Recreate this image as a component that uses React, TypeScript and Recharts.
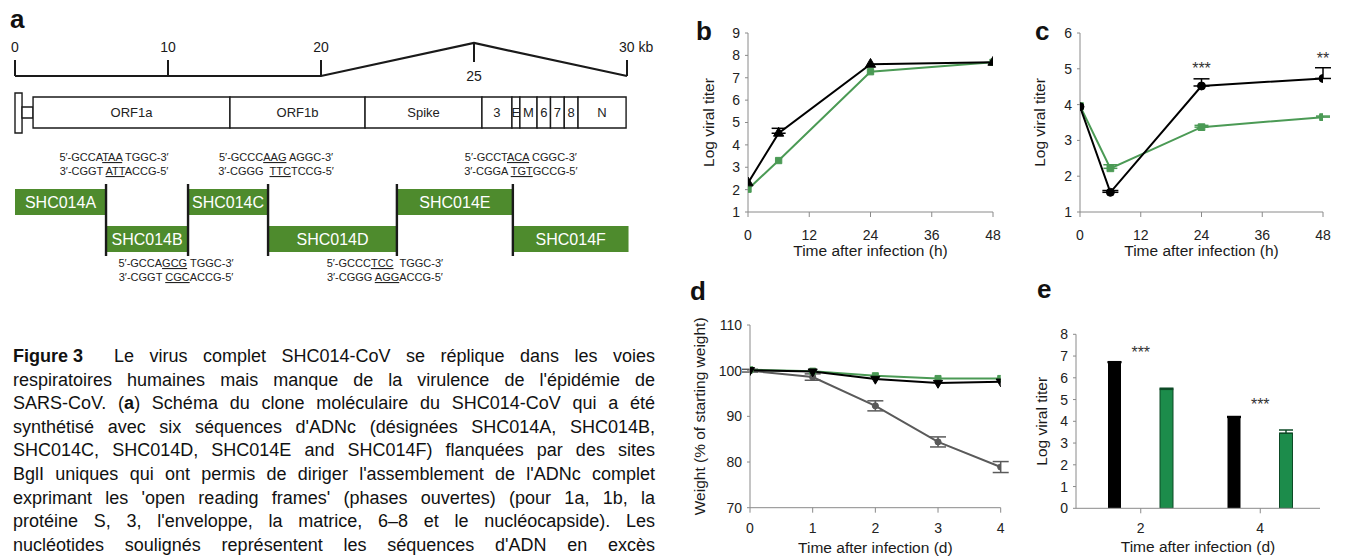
import React from 'react';
import {
  ComposedChart, LineChart, BarChart, Line, Bar, XAxis, YAxis,
  ReferenceArea, ReferenceLine, ReferenceDot, ErrorBar, Symbols,
} from 'recharts';

const FONT = "'Liberation Sans', Arial, Helvetica, sans-serif";
const NARROW = "'Liberation Sans Narrow', 'Arial Narrow', 'Liberation Sans', Arial, sans-serif";
const GREEN_LINE = '#4b9a55';
const GREEN_BAR = '#1c8c4b';
const GREEN_BLOCK = '#4e8b2d';
const AXIS = '#8a8a8a';
const INK = '#1a1a1a';
const GRAY_LINE = '#5a5a5a';

// ---------------- Panel a : genome map ----------------
const scaleBarKb = [0, 20, 25, 30];
const scaleTickKb = [0, 10, 20, 25, 30];
const scaleTickLabels = ['0', '10', '20', '25', '30 kb'];

const genomeParts = ['leader', 'link', 'ORF1a', 'ORF1b', 'Spike', '3', 'E', 'M', '6', '7', '8', 'N'];
const genomeStartKb = [0, 0.46, 1.18, 14.05, 21.44, 25.26, 26.24, 26.5, 27.06, 27.5, 27.95, 28.4];
const genomeEndKb = [0.46, 1.18, 14.05, 21.44, 25.26, 26.24, 26.5, 27.06, 27.5, 27.95, 28.4, 29.97];

const fragmentNames = ['SHC014A', 'SHC014B', 'SHC014C', 'SHC014D', 'SHC014E', 'SHC014F'];
const fragmentStartKb = [0, 5.95, 11.31, 16.54, 22.48, 26.27];
const fragmentEndKb = [5.95, 11.31, 16.54, 22.48, 26.27, 30.05];

// junction sequences [before, underlined, after]
const junctionSeq5 = [
  ['5\u2032-GCCA', 'TAA', ' TGGC-3\u2032'],
  ['5\u2032-GCCA', 'GCG', ' TGGC-3\u2032'],
  ['5\u2032-GCCC', 'AAG', ' AGGC-3\u2032'],
  ['5\u2032-GCCC', 'TCC', '  TGGC-3\u2032'],
  ['5\u2032-GCCT', 'ACA', ' CGGC-3\u2032'],
];
const junctionSeq3 = [
  ['3\u2032-CGGT ', 'ATT', 'ACCG-5\u2032'],
  ['3\u2032-CGGT ', 'CGC', 'ACCG-5\u2032'],
  ['3\u2032-CGGG  ', 'TTC', 'TCCG-5\u2032'],
  ['3\u2032-CGGG ', 'AGG', 'ACCG-5\u2032'],
  ['3\u2032-CGGA ', 'TGT', 'GCCG-5\u2032'],
];

// ---------------- Panel b ----------------
const hoursB = [0, 6, 24, 48];
const blackB = [2.3, 4.52, 7.6, 7.69];
const blackBErr = [0, 0.22, 0, 0];
const greenB = [2.02, 3.3, 7.27, 7.69];
const greenBErr = [0, 0, 0, 0];

// ---------------- Panel c ----------------
const hoursC = [0, 6, 24, 48];
const blackC = [3.94, 1.55, 4.52, 4.73];
const blackCErr = [0, 0.05, 0.2, 0.3];
const greenC = [3.96, 2.22, 3.37, 3.65];
const greenCErr = [0, 0.1, 0.05, 0.03];
const starsC = [
  { x: 24, y: 5.1, text: '***' },
  { x: 48, y: 5.39, text: '**' },
];

// ---------------- Panel d ----------------
const daysD = [0, 1, 2, 3, 4];
const greenD = [100.2, 99.9, 98.9, 98.3, 98.3];
const blackD = [100.1, 99.8, 98.2, 97.3, 97.6];
const grayD = [100.0, 98.6, 92.3, 84.4, 78.9];
const grayDErr = [0.3, 0.7, 1.1, 1.1, 1.2];

// ---------------- Panel e ----------------
const daysE = ['2', '4'];
const blackE = [6.7, 4.18];
const blackEErr = [0.04, 0.04];
const greenE = [5.47, 3.45];
const greenEErr = [0.05, 0.15];
const starsE = [
  { x: '2', y: 7.32, text: '***' },
  { x: '4', y: 4.95, text: '***' },
];

const captionLines: React.ReactNode[] = [
  <><b style={{ fontWeight: 900, display: 'inline-block', whiteSpace: 'nowrap' }}>Figure 3</b>{' \u00a0Le virus complet SHC014-CoV se réplique dans les voies'}</>,
  "respiratoires humaines mais manque de la virulence de l'épidémie de",
  <>SARS-CoV. (<b>a</b>) Schéma du clone moléculaire du SHC014-CoV qui a été</>,
  "synthétisé avec six séquences d'ADNc (désignées SHC014A, SHC014B,",
  'SHC014C, SHC014D, SHC014E and SHC014F) flanquées par des sites',
  "BglI uniques qui ont permis de diriger l'assemblement de l'ADNc complet",
  "exprimant les 'open reading frames' (phases ouvertes) (pour 1a, 1b, la",
  "protéine S, 3, l'enveloppe, la matrice, 6–8 et le nucléocapside). Les",
  "nucléotides soulignés représentent les séquences d'ADN en excès",
];

// map kb onto the drawn (broken) scale: 20–30 kb is shown expanded x2
const toU = (kb: number) => (kb <= 20 ? kb : 20 + 2 * (kb - 20));

const A = {
  baseY: 76, peakY: 43, tickTopY: 60, peakTickY: 62, tickLabelY: 52, peakLabelY: 81,
  boxTop: 97, boxBottom: 128, leaderTop: 93, leaderBottom: 133, linkTop: 107, linkBottom: 118,
  upperTop: 189, upperBottom: 215, lowerTop: 226, lowerBottom: 252, joinTop: 184, joinBottom: 256,
  seqUpperY: 161, seqLowerY: 267, seqGap: 14,
};

const textShape = (label: string, opts: any) => (p: any) => (
  <text
    x={(p.cx ?? 0) + (opts.dx || 0)}
    y={(p.cy ?? 0) + (opts.dy || 0)}
    textAnchor={opts.anchor || 'middle'}
    fontSize={opts.fontSize || 14}
    fill={opts.fill || INK}
    fontFamily={FONT}
  >
    {label}
  </text>
);

const seqShape = (s5: string[], s3: string[], dx: number) => (p: any) => {
  const x = (p.cx ?? 0) + dx;
  const y = p.cy ?? 0;
  return (
    <text textAnchor="middle" fontSize={11} fill="#222" fontFamily={FONT} xmlSpace="preserve" style={{ whiteSpace: 'pre' }}>
      <tspan x={x} y={y}>
        {s5[0]}
        <tspan style={{ textDecoration: 'underline' }}>{s5[1]}</tspan>
        {s5[2]}
      </tspan>
      <tspan x={x} y={y + A.seqGap}>
        {s3[0]}
        <tspan style={{ textDecoration: 'underline' }}>{s3[1]}</tspan>
        {s3[2]}
      </tspan>
    </text>
  );
};

function PanelA() {
  const scaleLine = scaleBarKb.map((kb) => ({ u: toU(kb), y: kb === 25 ? A.peakY : A.baseY }));
  const junctions = fragmentEndKb.slice(0, 5);
  return (
    <ComposedChart width={660} height={290} data={scaleLine} margin={{ top: 0, right: 17.7, bottom: 0, left: 15 }}>
      <XAxis type="number" dataKey="u" domain={[0, 41]} allowDataOverflow hide />
      <YAxis type="number" domain={[0, 290]} allowDataOverflow reversed hide />
      <Line dataKey="y" stroke={INK} strokeWidth={2.2} dot={false} isAnimationActive={false} />
      {scaleTickKb.map((kb, i) => {
        const u = toU(kb);
        const seg = kb === 25
          ? [{ x: u, y: A.peakY }, { x: u, y: A.peakTickY }]
          : [{ x: u, y: A.tickTopY }, { x: u, y: A.baseY }];
        return <ReferenceLine key={'tick' + i} segment={seg} stroke={INK} strokeWidth={2} />;
      })}
      {scaleTickKb.map((kb, i) => (
        <ReferenceDot
          key={'tl' + i}
          x={toU(kb)}
          y={kb === 25 ? A.peakLabelY : A.tickLabelY}
          r={0}
          shape={textShape(scaleTickLabels[i], { fontSize: 14, anchor: i === 4 ? 'start' : 'middle', dx: i === 4 ? -8 : 0 })}
        />
      ))}
      {genomeParts.map((name, i) => {
        const isLeader = name === 'leader';
        const isLink = name === 'link';
        const y1 = isLeader ? A.leaderTop : isLink ? A.linkTop : A.boxTop;
        const y2 = isLeader ? A.leaderBottom : isLink ? A.linkBottom : A.boxBottom;
        return (
          <ReferenceArea
            key={'g' + i}
            x1={toU(genomeStartKb[i])}
            x2={toU(genomeEndKb[i])}
            y1={y1}
            y2={y2}
            fill="#ffffff"
            fillOpacity={1}
            stroke={INK}
            strokeWidth={1.4}
            strokeOpacity={1}
            label={isLeader || isLink ? undefined : { value: name, position: 'center', fontSize: 13, fill: '#222', fontFamily: NARROW }}
          />
        );
      })}
      {fragmentNames.map((name, i) => {
        const upper = i % 2 === 0;
        return (
          <ReferenceArea
            key={'f' + i}
            x1={toU(fragmentStartKb[i])}
            x2={toU(fragmentEndKb[i])}
            y1={upper ? A.upperTop : A.lowerTop}
            y2={upper ? A.upperBottom : A.lowerBottom}
            fill={GREEN_BLOCK}
            fillOpacity={1}
            stroke="none"
            label={{ value: name, position: 'center', fontSize: 16, fill: '#ffffff', fontFamily: FONT }}
          />
        );
      })}
      {junctions.map((kb, i) => (
        <ReferenceLine
          key={'j' + i}
          segment={[{ x: toU(kb), y: A.joinTop }, { x: toU(kb), y: A.joinBottom }]}
          stroke={INK}
          strokeWidth={2.4}
        />
      ))}
      {junctions.map((kb, i) => {
        const upper = i % 2 === 0;
        return (
          <ReferenceDot
            key={'s' + i}
            x={toU(kb)}
            y={upper ? A.seqUpperY : A.seqLowerY}
            r={0}
            shape={seqShape(junctionSeq5[i], junctionSeq3[i], upper ? 8 : -12)}
          />
        );
      })}
    </ComposedChart>
  );
}

// ---------------- helpers for b–e ----------------
const makeDot = (type: any, size: number, fill: string, flip = false) => (props: any) => {
  const { cx, cy, index } = props;
  if (cx == null || cy == null) return <g key={'d' + index} />;
  const sym = <Symbols cx={cx} cy={cy} type={type} size={size} fill={fill} stroke={fill} />;
  return flip ? <g key={'d' + index} transform={`rotate(180 ${cx} ${cy})`}>{sym}</g> : <g key={'d' + index}>{sym}</g>;
};

const yTitle = (text: string, offX: number, fontSize = 15.5) => (props: any) => {
  const vb = props.viewBox || {};
  const cx = (vb.x ?? 0) + offX;
  const cy = (vb.y ?? 0) + (vb.height ?? 0) / 2;
  return (
    <text x={cx} y={cy} transform={`rotate(-90 ${cx} ${cy})`} textAnchor="middle" dominantBaseline="central" fontSize={fontSize} fill={INK} fontFamily={FONT}>
      {text}
    </text>
  );
};

const xTitle = (text: string, offY: number, fontSize = 15.5) => (props: any) => {
  const vb = props.viewBox || {};
  const cx = (vb.x ?? 0) + (vb.width ?? 0) / 2;
  const cy = (vb.y ?? 0) + offY;
  return (
    <text x={cx} y={cy} textAnchor="middle" dominantBaseline="central" fontSize={fontSize} fill={INK} fontFamily={FONT}>
      {text}
    </text>
  );
};

const starShape = (text: string) => (p: any) => (
  <text x={p.cx ?? 0} y={(p.cy ?? 0) + 9} textAnchor="middle" fontSize={16} fill="#333" fontFamily={FONT}>
    {text}
  </text>
);

const tickStyle = { fontSize: 14, fill: '#222', fontFamily: FONT };
const upErr = (v: number) => (v ? [0, v] : null);

function PanelB() {
  const data = hoursB.map((h, i) => ({
    h, black: blackB[i], green: greenB[i], blackErr: upErr(blackBErr[i]), greenErr: upErr(greenBErr[i]),
  }));
  return (
    <LineChart width={345} height={275} data={data} margin={{ top: 33, right: 12, bottom: 0, left: 0 }}>
      <XAxis dataKey="h" type="number" domain={[0, 48]} ticks={[0, 12, 24, 36, 48]} allowDataOverflow height={63}
        tickSize={5} tickMargin={13} stroke={AXIS} tick={tickStyle} label={xTitle('Time after infection (h)', 38)} />
      <YAxis type="number" domain={[1, 9]} ticks={[1, 2, 3, 4, 5, 6, 7, 8, 9]} allowDataOverflow width={88}
        tickSize={3} tickMargin={5} stroke={AXIS} tick={tickStyle} label={yTitle('Log viral titer', 48)} />
      <Line dataKey="green" stroke={GREEN_LINE} strokeWidth={2} dot={makeDot('square', 40, GREEN_LINE)} isAnimationActive={false}>
        <ErrorBar dataKey="greenErr" width={7} strokeWidth={1.5} stroke={GREEN_LINE} direction="y" />
      </Line>
      <Line dataKey="black" stroke="#000" strokeWidth={2} dot={makeDot('triangle', 45, '#000')} isAnimationActive={false}>
        <ErrorBar dataKey="blackErr" width={7} strokeWidth={1.5} stroke="#000" direction="y" />
      </Line>
    </LineChart>
  );
}

function PanelC() {
  const data = hoursC.map((h, i) => ({
    h, black: blackC[i], green: greenC[i], blackErr: upErr(blackCErr[i]), greenErr: upErr(greenCErr[i]),
  }));
  return (
    <LineChart width={345} height={275} data={data} margin={{ top: 33, right: 22, bottom: 0, left: 0 }}>
      <XAxis dataKey="h" type="number" domain={[0, 48]} ticks={[0, 12, 24, 36, 48]} allowDataOverflow height={63}
        tickSize={5} tickMargin={13} stroke={AXIS} tick={tickStyle} label={xTitle('Time after infection (h)', 38)} />
      <YAxis type="number" domain={[1, 6]} ticks={[1, 2, 3, 4, 5, 6]} allowDataOverflow width={80}
        tickSize={3} tickMargin={5} stroke={AXIS} tick={tickStyle} label={yTitle('Log viral titer', 39)} />
      <Line dataKey="green" stroke={GREEN_LINE} strokeWidth={2} dot={makeDot('square', 45, GREEN_LINE)} isAnimationActive={false}>
        <ErrorBar dataKey="greenErr" width={7} strokeWidth={1.5} stroke={GREEN_LINE} direction="y" />
      </Line>
      <Line dataKey="black" stroke="#000" strokeWidth={2} dot={makeDot('circle', 50, '#000')} isAnimationActive={false}>
        <ErrorBar dataKey="blackErr" width={8} strokeWidth={1.5} stroke="#000" direction="y" />
      </Line>
      {starsC.map((s, i) => (
        <ReferenceDot key={'sc' + i} x={s.x} y={s.y} r={0} shape={starShape(s.text)} />
      ))}
    </LineChart>
  );
}

function PanelD() {
  const data = daysD.map((d, i) => ({ d, green: greenD[i], black: blackD[i], gray: grayD[i], grayErr: grayDErr[i] }));
  return (
    <LineChart width={350} height={279} data={data} margin={{ top: 45, right: 9.3, bottom: 0, left: 0 }}>
      <XAxis dataKey="d" type="number" domain={[0, 4]} ticks={[0, 1, 2, 3, 4]} allowDataOverflow height={51.3}
        tickSize={5} tickMargin={10} stroke={AXIS} tick={tickStyle} label={xTitle('Time after infection (d)', 40)} />
      <YAxis type="number" domain={[70, 110]} ticks={[70, 80, 90, 100, 110]} allowDataOverflow width={90}
        tickSize={3} tickMargin={5} stroke={AXIS} tick={tickStyle} label={yTitle('Weight (% of starting weight)', 40)} />
      <Line dataKey="gray" stroke={GRAY_LINE} strokeWidth={2} dot={makeDot('circle', 30, GRAY_LINE)} isAnimationActive={false}>
        <ErrorBar dataKey="grayErr" width={8} strokeWidth={1.5} stroke={GRAY_LINE} direction="y" />
      </Line>
      <Line dataKey="green" stroke={GREEN_LINE} strokeWidth={2} dot={makeDot('square', 36, GREEN_LINE)} isAnimationActive={false} />
      <Line dataKey="black" stroke="#000" strokeWidth={2} dot={makeDot('triangle', 36, '#000', true)} isAnimationActive={false} />
    </LineChart>
  );
}

function PanelE() {
  const data = daysE.map((d, i) => ({ d, black: blackE[i], green: greenE[i], blackErr: [0, blackEErr[i]], greenErr: [0, greenEErr[i]] }));
  return (
    <BarChart width={335} height={279} data={data} margin={{ top: 54.3, right: 25, bottom: 0, left: 0 }} barSize={13} barGap={39}>
      <XAxis dataKey="d" type="category" height={50.7} padding={{ left: 5, right: 0 }}
        tickSize={5} tickMargin={10} stroke={AXIS} tick={tickStyle} label={xTitle('Time after infection (d)', 38.4)} />
      <YAxis type="number" domain={[0, 8]} ticks={[0, 1, 2, 3, 4, 5, 6, 7, 8]} allowDataOverflow width={66}
        tickSize={3} tickMargin={5} stroke={AXIS} tick={tickStyle} label={yTitle('Log viral titer', 31.7)} />
      <Bar dataKey="black" fill="#000" isAnimationActive={false}>
        <ErrorBar dataKey="blackErr" width={7} strokeWidth={1.5} stroke="#000" direction="y" />
      </Bar>
      <Bar dataKey="green" fill={GREEN_BAR} stroke="#0d4a26" strokeWidth={1} isAnimationActive={false}>
        <ErrorBar dataKey="greenErr" width={7} strokeWidth={1.5} stroke="#0d4a26" direction="y" />
      </Bar>
      {starsE.map((s, i) => (
        <ReferenceDot key={'se' + i} x={s.x} y={s.y} r={0} shape={starShape(s.text)} />
      ))}
    </BarChart>
  );
}

const letter = (ch: string, left: number, baseline: number) => (
  <div style={{ position: 'absolute', left, top: baseline - 22, fontSize: 26, lineHeight: '26px', fontWeight: 700, color: '#111' }}>{ch}</div>
);

export default function App() {
  return (
    <div style={{ position: 'absolute', left: 0, top: 0, width: 1345, height: 559, background: '#fff', fontFamily: FONT, overflow: 'hidden' }}>
      <div style={{ position: 'absolute', left: 0, top: 0 }}><PanelA /></div>
      <div style={{ position: 'absolute', left: 660, top: 0 }}><PanelB /></div>
      <div style={{ position: 'absolute', left: 1000, top: 0 }}><PanelC /></div>
      <div style={{ position: 'absolute', left: 660, top: 280 }}><PanelD /></div>
      <div style={{ position: 'absolute', left: 1010, top: 280 }}><PanelE /></div>
      {letter('a', 10, 28)}
      {letter('b', 696, 40)}
      {letter('c', 1035, 40)}
      {letter('d', 690, 300)}
      {letter('e', 1037, 298)}
      <div style={{ position: 'absolute', left: 13, top: 345, width: 642, fontSize: 18, lineHeight: '23.6px', color: '#111' }}>
        {captionLines.map((ln, i) => (
          <div key={i} style={{ textAlign: 'justify', textAlignLast: 'justify' }}>{ln}</div>
        ))}
      </div>
    </div>
  );
}
